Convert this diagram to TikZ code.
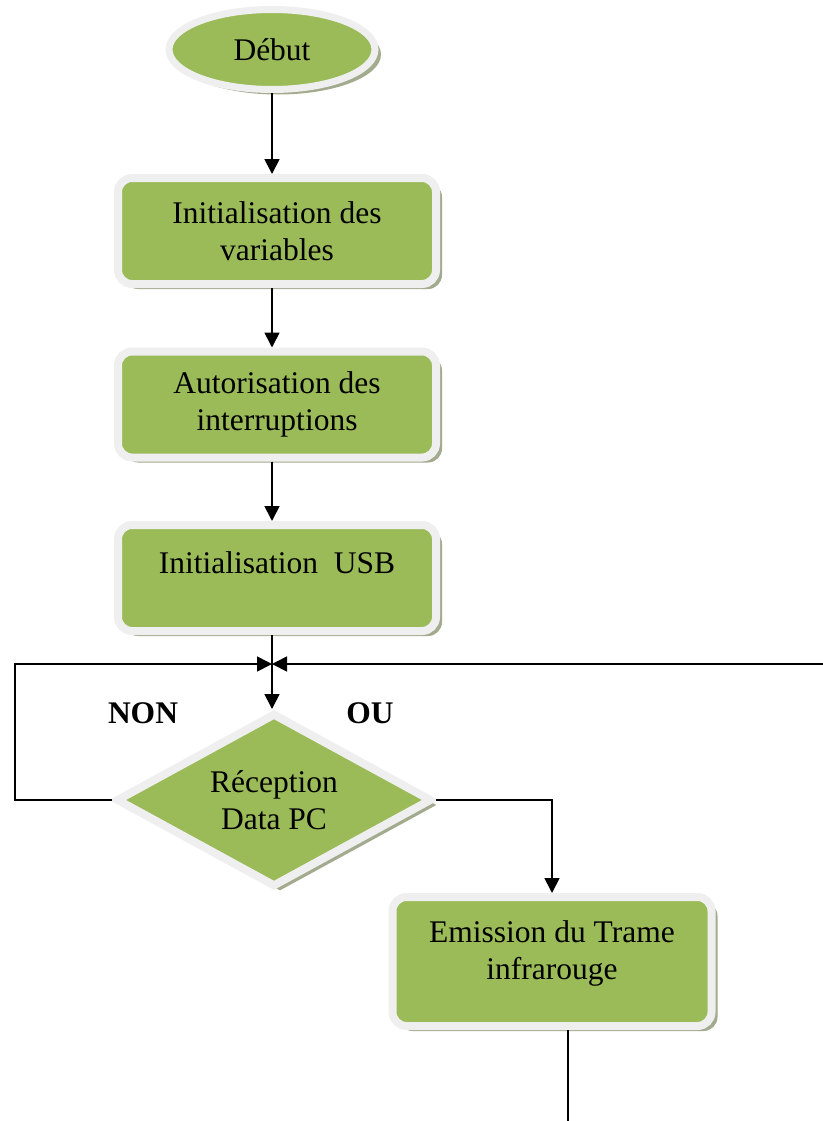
\documentclass[tikz,border=0pt]{standalone}
\usepackage{fontspec}
\setmainfont{Liberation Serif}
\usetikzlibrary{shapes.geometric,shadows,arrows.meta,calc}
\definecolor{gr}{HTML}{9BBB59}
\definecolor{rim}{HTML}{EFEFEF}
\definecolor{shd}{HTML}{A3AB8E}
\tikzset{
 shadowed/.style={drop shadow={shadow xshift=6pt,shadow yshift=-5pt,fill=shd,opacity=1}},
 stepbox/.style={rectangle, rounded corners=14pt, fill=gr, draw=rim, line width=8pt, shadowed, inner sep=0pt,
   minimum width=318pt, minimum height=106pt, font=\fontsize{31.5}{37}\selectfont, align=center},
 startnode/.style={ellipse, fill=gr, draw=rim, line width=7pt, shadowed, inner sep=0pt,
   minimum width=206pt, minimum height=80pt, font=\fontsize{31.5}{37}\selectfont},
 decision/.style={diamond, aspect=1.82, fill=gr, draw=rim, line width=8pt, shadowed, inner sep=0pt,
   minimum width=316pt, minimum height=174pt, font=\fontsize{31.5}{37}\selectfont, align=center},
 txt/.style={font=\fontsize{31.5}{37}\selectfont, align=center, inner sep=0pt},
 lbl/.style={font=\fontsize{31.5}{37}\selectfont\bfseries, inner sep=0pt},
 arr/.style={line width=1.7pt, -{Triangle[length=15pt,width=15pt]}},
 ln/.style={line width=1.7pt},
}
\begin{document}
\begin{tikzpicture}[x=1pt,y=-1pt]
\useasboundingbox (0,0) rectangle (822,1121);
% nodes
\node[startnode] (s) at (272,49.5) {Début};
\node[stepbox] (b1) at (277,231) {Initialisation des\\variables};
\node[stepbox] (b2) at (277,404.5) {Autorisation des\\interruptions};
\node[stepbox] (b3) at (277,578) {};
\node[txt] (t3) at (277,563) {Initialisation\ \ USB};
\node[decision] (d) at (274,800) {Réception\\Data PC};
\node[stepbox, minimum width=319pt, minimum height=129pt] (b4) at (552,961.5) {};
\node[txt] (t4) at (552,953) {Emission du Trame\\infrarouge};
\node[lbl] (non) at (143,713) {NON};
\node[lbl] (ou) at (370,713) {OU};
% coordinates
\coordinate (ax) at (272,0);
\coordinate (jn) at (272,664);
\coordinate (lx) at (15,664);
\coordinate (rx) at (830,664);
\coordinate (bx) at (568,1130);
% connectors
\draw[arr] (s.south -| ax) -- (b1.north -| ax);
\draw[arr] (b1.south -| ax) -- (b2.north -| ax);
\draw[arr] (b2.south -| ax) -- (b3.north -| ax);
\draw[ln] (b3.south -| ax) -- (jn);
\draw[arr] (jn) -- (d.north -| ax);
\draw[arr] (d.west) -| (lx) -- (jn);
\draw[arr] (rx) -- (jn);
\draw[arr] (d.east) -| (b4.north);
\draw[ln] (b4.south -| bx) -- (bx);
\end{tikzpicture}
\end{document}
